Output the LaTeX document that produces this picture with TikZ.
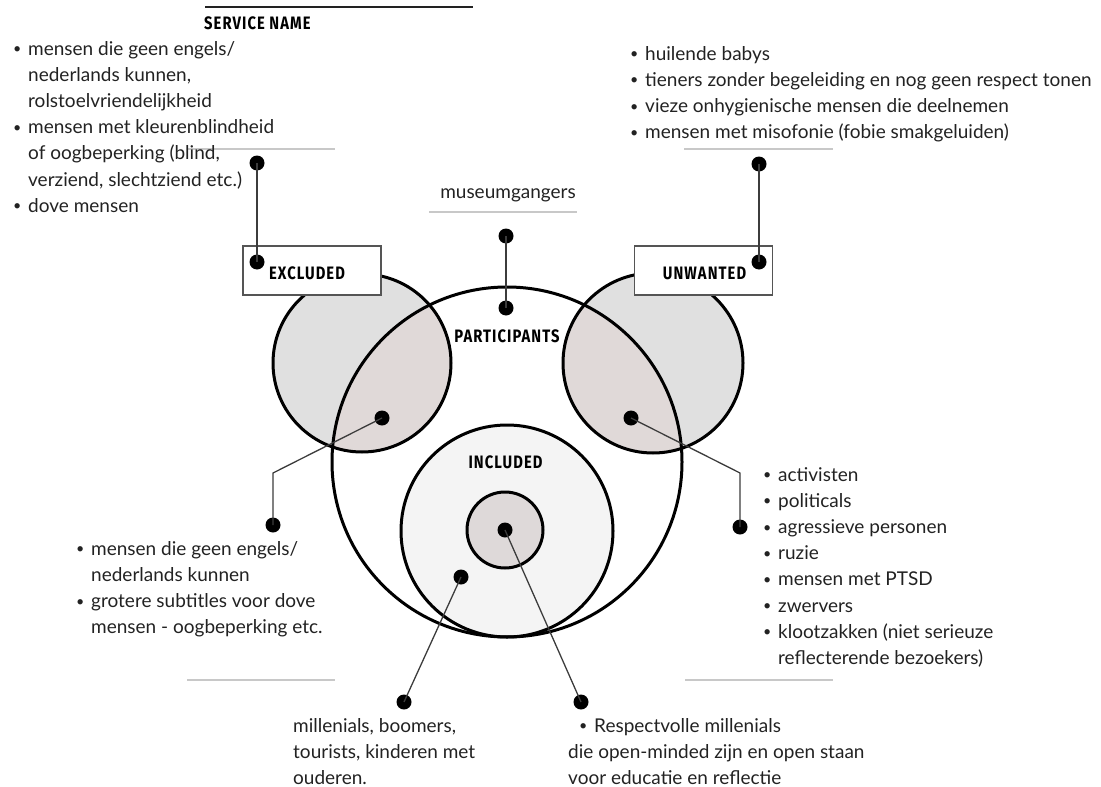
\documentclass[tikz,border=0pt]{standalone}
\usepackage{fontspec}
\usepackage{graphicx}
\setmainfont{Lato}
\newfontfamily\headfont[FakeStretch=0.82,LetterSpace=6]{Fira Sans}
\usetikzlibrary{calc}

\definecolor{sidefill}{HTML}{E0E0E0}
\definecolor{lensfill}{HTML}{E0D9D8}
\definecolor{incfill}{HTML}{F4F4F4}
\definecolor{corefill}{HTML}{DED9D9}
\definecolor{rulegray}{HTML}{C8C8C8}
\definecolor{wiregray}{HTML}{3C3C3C}
\definecolor{boxline}{HTML}{555555}
\definecolor{textgray}{HTML}{222222}

% small list bullet and hanging indent
\newcommand\bul{\makebox[15pt][l]{\raisebox{0.15ex}{\scalebox{0.75}{•}}}}
\newcommand\ind{\hspace*{15pt}}

\tikzset{
  ring/.style={draw=black, line width=3pt},
  dot/.style={circle, fill=black, inner sep=0pt, minimum size=15pt},
  wire/.style={draw=wiregray, line width=1.3pt},
  rulebar/.style={draw=rulegray, line width=2pt},
  tag/.style={draw=boxline, line width=1.3pt, fill=white,
    minimum width=138pt, minimum height=49pt, inner sep=0pt},
  heading/.style={font=\headfont\bfseries\fontsize{18}{20}\selectfont,
    text=black, inner sep=0pt},
  body/.style={font=\fontsize{19}{26.2}\selectfont, text=textgray,
    align=left, anchor=north west, inner sep=0pt},
}

\begin{document}
\begin{tikzpicture}[x=1pt, y=-1pt]
\useasboundingbox (0,0) rectangle (1101,787);

% circle centres
\coordinate (cL) at (362,363);
\coordinate (cR) at (653,363);
\coordinate (cP) at (507,462);
\coordinate (cI) at (507,531);
\coordinate (cC) at (505,530);

% fills
\fill[sidefill] (cL) circle[radius=89pt];
\fill[sidefill] (cR) circle[radius=90pt];
\begin{scope}
  \clip (cP) circle[radius=175pt];
  \fill[lensfill] (cL) circle[radius=89pt];
  \fill[lensfill] (cR) circle[radius=90pt];
\end{scope}
\fill[incfill] (cI) circle[radius=106pt];
\fill[corefill] (cC) circle[radius=38pt];

% outlines
\draw[ring] (cL) circle[radius=89pt];
\draw[ring] (cR) circle[radius=90pt];
\draw[ring] (cP) circle[radius=175pt];
\draw[ring] (cI) circle[radius=106pt];
\draw[ring] (cC) circle[radius=38pt];

% label boxes
\node[tag] (exbox) at (312,270.5) {};
\node[tag] (unbox) at (703.5,270.5) {};

% title rule and grey separators
\draw[draw=textgray, line width=2pt] (205,7) -- (473,7);
\draw[rulebar] (187,149) -- (335,149);
\draw[rulebar] (684,149) -- (833,149);
\draw[rulebar] (429,212) -- (577,212);
\draw[rulebar] (187,680) -- (335,680);
\draw[rulebar] (685,680) -- (833,680);

% dots
\node[dot] (exTop) at (257,163) {};
\node[dot] (exIn) at (257,262) {};
\node[dot] (unTop) at (759,164) {};
\node[dot] (unIn) at (759,262) {};
\node[dot] (muTop) at (506,236) {};
\node[dot] (muIn) at (506,308) {};
\node[dot] (lensL) at (382,418) {};
\node[dot] (listL) at (273,525) {};
\node[dot] (lensR) at (631,418) {};
\node[dot] (listR) at (740,527) {};
\node[dot] (incIn) at (461,577) {};
\node[dot] (incOut) at (404,702) {};
\node[dot] (coreIn) at (505,530) {};
\node[dot] (coreOut) at (581,702) {};
\coordinate (bendL) at (273,473);
\coordinate (bendR) at (740,473);

% connectors
\draw[wire] (exTop.center) -- (exIn.center);
\draw[wire] (unTop.center) -- (unIn.center);
\draw[wire] (muTop.center) -- (muIn.center);
\draw[wire] (lensL.center) -- (bendL) -- (listL.center);
\draw[wire] (lensR.center) -- (bendR) -- (listR.center);
\draw[wire] (incIn.center) -- (incOut.center);
\draw[wire] (coreIn.center) -- (coreOut.center);

% headings
\node[heading, anchor=base west] (title) at (204,30) {SERVICE NAME};
\node[heading, anchor=base] (exlabel) at (307,279) {EXCLUDED};
\node[heading, anchor=base] (unlabel) at (704.5,279) {UNWANTED};
\node[heading, anchor=base] (partlabel) at (507,342) {PARTICIPANTS};
\node[heading, anchor=base] (inclabel) at (505.5,468) {INCLUDED};

% texts
\node[body] (exText) at (13,36.6) {\strut\bul mensen die geen engels/\\
  \ind nederlands kunnen,\\
  \ind rolstoelvriendelijkheid\\
  \bul mensen met kleurenblindheid\\
  \ind of oogbeperking (blind,\\
  \ind verziend, slechtziend etc.)\\
  \bul dove mensen};

\node[body] (unText) at (630,41.6) {\strut\bul huilende babys\\
  \bul tieners zonder begeleiding en nog geen respect tonen\\
  \bul vieze onhygienische mensen die deelnemen\\
  \bul mensen met misofonie (fobie smakgeluiden)};

\node[body, anchor=base] (muText) at (508,198) {museumgangers};

\node[body] (lensRText) at (763,462.6) {\strut\bul activisten\\
  \bul politicals\\
  \bul agressieve personen\\
  \bul ruzie\\
  \bul mensen met PTSD\\
  \bul zwervers\\
  \bul klootzakken (niet serieuze\\
  \ind reflecterende bezoekers)};

\node[body] (lensLText) at (76,536.6) {\strut\bul mensen die geen engels/\\
  \ind nederlands kunnen\\
  \bul grotere subtitles voor dove\\
  \ind mensen - oogbeperking etc.};

\node[body] (incText) at (293,713.6) {\strut millenials, boomers,\\
  tourists, kinderen met\\
  ouderen.};

\node[body] (coreText) at (568,713.6) {\strut\hspace*{11pt}\bul Respectvolle millenials\\
  die open-minded zijn en open staan\\
  voor educatie en reflectie};
\end{tikzpicture}
\end{document}
